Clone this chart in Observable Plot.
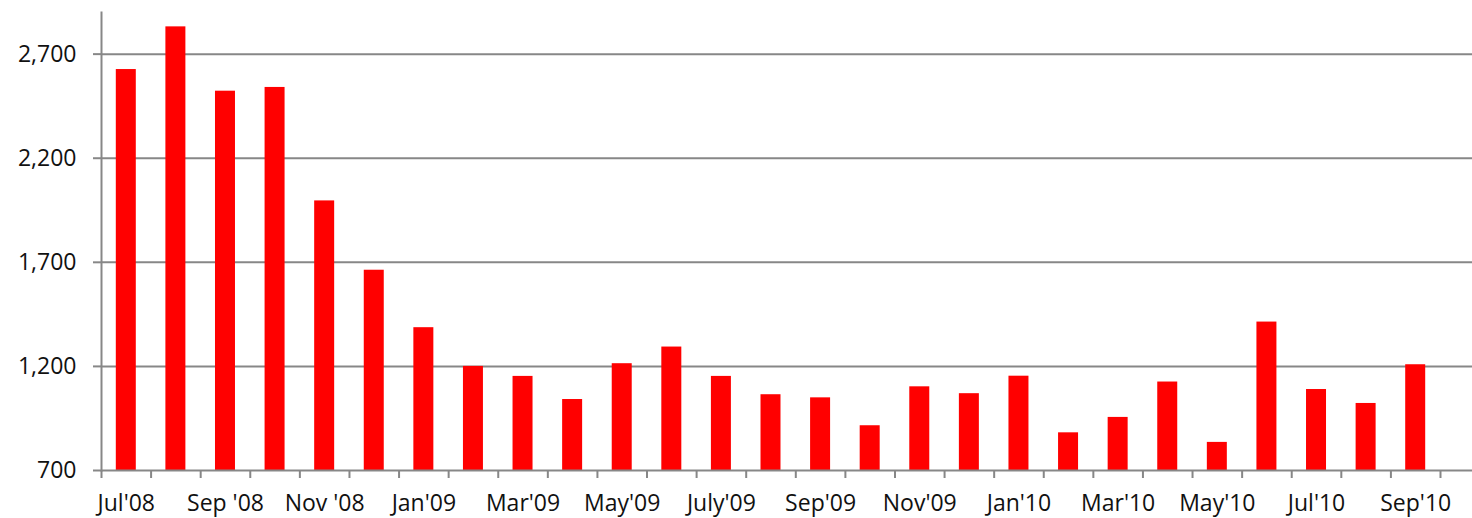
<!DOCTYPE html>
<html>
<head>
<meta charset="utf-8">
<script src="https://cdn.jsdelivr.net/npm/d3@7"></script>
<script src="https://cdn.jsdelivr.net/npm/@observablehq/plot@0.6"></script>
<style>
  html, body { margin: 0; padding: 0; background: #fff; }
  #chart svg { display: block; }
</style>
</head>
<body>
<div id="chart"></div>
<script>
const months = ["Jul'08","Aug'08","Sep '08","Oct'08","Nov '08","Dec'08","Jan'09","Feb'09","Mar'09","Apr'09","May'09","Jun'09","July'09","Aug'09","Sep'09","Oct'09","Nov'09","Dec'09","Jan'10","Feb'10","Mar'10","Apr'10","May'10","Jun'10","Jul'10","Aug'10","Sep'10"];
const values = [2626, 2831, 2522, 2540, 1995, 1662, 1386, 1200, 1152, 1041, 1213, 1293, 1152, 1064, 1049, 915, 1102, 1069, 1153, 881, 955, 1125, 835, 1413, 1089, 1022, 1208];
const shownLabels = ["Jul'08","Sep '08","Nov '08","Jan'09","Mar'09","May'09","July'09","Sep'09","Nov'09","Jan'10","Mar'10","May'10","Jul'10","Sep'10"];
const yTicks = [700, 1200, 1700, 2200, 2700];

const data = months.map((m, i) => ({month: m, i, value: values[i]}));
const labelPos = data.filter(d => shownLabels.includes(d.month)).map(d => d.i + 0.5);
const boundaries = d3.range(0, months.length + 1);
const grey = "#878787";
const fmt = d3.format(",.0f");

const chart = Plot.plot({
  width: 1472,
  height: 518,
  marginLeft: 101,
  marginRight: 0,
  marginTop: 12,
  marginBottom: 48,
  style: {fontFamily: "'Open Sans', sans-serif", fontSize: "23px", color: "#111", background: "#fff"},
  x: {domain: [0, months.length], range: [101, 1440]},
  y: {domain: [700, 2900]},
  marks: [
    Plot.gridY(yTicks.slice(1), {stroke: grey, strokeOpacity: 1, strokeWidth: 2}),
    Plot.rectY(data, {x1: "i", x2: d => d.i + 1, y1: 700, y2: "value", fill: "#ff0000", insetLeft: 14.8, insetRight: 14.8}),
    Plot.ruleY([700], {stroke: grey, strokeWidth: 2}),
    Plot.frame({anchor: "left", stroke: grey, strokeWidth: 2}),
    Plot.axisY({ticks: yTicks, tickFormat: fmt, tickSize: 8, tickPadding: 17, stroke: grey, strokeWidth: 2, strokeOpacity: 1, label: null, fontSize: 23}),
    Plot.axisX({ticks: boundaries, tickFormat: () => "", tickSize: 8, stroke: grey, strokeWidth: 2, strokeOpacity: 1, label: null}),
    Plot.axisX({ticks: labelPos, tickFormat: v => months[Math.floor(v)], tickSize: 0, tickPadding: 24, label: null, fontSize: 23})
  ]
});
document.getElementById("chart").appendChild(chart);
</script>
</body>
</html>
